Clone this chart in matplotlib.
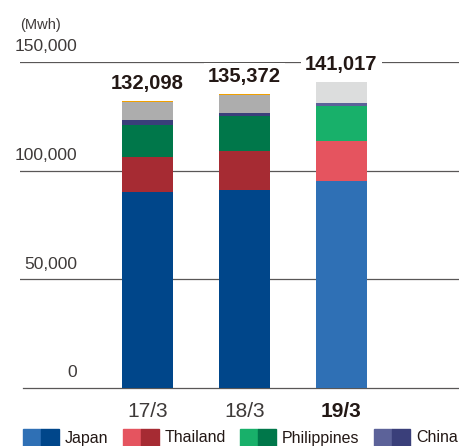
import matplotlib.pyplot as plt
from matplotlib.patches import Rectangle
import matplotlib.transforms as mtransforms

# energy use per fiscal year, Mwh
years = ["17/3", "18/3", "19/3"]
totals = [132098, 135372, 141017]
japan = [90200, 91300, 95240]
thailand = [15950, 17650, 18230]
philippines = [15050, 16260, 16450]
china = [2280, 1490, 1390]
other = [8220, 8220, 9707]
other2 = [398, 452, 0]

regions = ["Japan", "Thailand", "Philippines", "China"]
light = ["#2f70b5", "#e5545f", "#18b06a", "#5c6299"]
dark = ["#00468a", "#a62b33", "#00774a", "#3a3f7a"]
grey_dark, grey_light, orange = "#adadad", "#dcdddd", "#f0a000"
line_c = "#595757"
txt_c = "#231815"

font = ["Liberation Sans", "DejaVu Sans"]

W, H = 459, 446
fig = plt.figure(figsize=(W / 100, H / 100), dpi=100)
ax = fig.add_axes([20 / W, (H - 388) / H, (W - 20) / W, 326 / H])
ax.set_ylim(0, 150000)
ax.set_xlim(-127.5 / 97, (W - 147.5) / 97)
for s in ax.spines.values():
    s.set_visible(False)
ax.set_yticks([])

# gridlines with labels sitting above them
for v in [50000, 100000, 150000]:
    ax.axhline(v, color=line_c, lw=0.9, zorder=1)
ax.plot([3 / 439, 1], [0, 0],
        transform=mtransforms.blended_transform_factory(ax.transAxes, ax.transData),
        color=line_c, lw=0.9, zorder=1, clip_on=False)
for v in [0, 50000, 100000, 150000]:
    ax.annotate(f"{v:,}", (57 / 439, v), xycoords=("axes fraction", "data"),
                xytext=(0, 5.5), textcoords="offset points", ha="right", va="bottom",
                fontsize=12.5, family=font, color="#3e3a39", annotation_clip=False)
fig.text(20 / W, 1 - 25 / H, "(Mwh)", fontsize=10.5, family=font,
         color="#3e3a39", va="center", ha="left")

x = range(len(years))
w = 51 / 97
stacks = [japan, thailand, philippines, china]
for i in x:
    cols = light if i == 2 else dark
    bottom = 0
    for vals, c in zip(stacks, cols):
        ax.bar(i, vals[i], w, bottom=bottom, color=c, zorder=2)
        bottom += vals[i]
    ax.bar(i, other[i], w, bottom=bottom, color=grey_light if i == 2 else grey_dark, zorder=2)
    bottom += other[i]
    if other2[i]:
        ax.bar(i, other2[i], w, bottom=bottom, color=orange, zorder=2)
    ax.annotate(f"{totals[i]:,}", (i, totals[i]), xytext=(0, 5.5),
                textcoords="offset points", ha="center", va="bottom",
                fontsize=14.5, fontweight="bold", family=font, color=txt_c,
                annotation_clip=False,
                bbox=dict(boxstyle="square,pad=0.2", fc="white", ec="none"),
                zorder=3)

ax.set_xticks(list(x))
ax.set_xticklabels(years, fontsize=15, family=font, color="#3e3a39")
ax.get_xticklabels()[2].set_fontweight("bold")
ax.get_xticklabels()[2].set_color(txt_c)
ax.tick_params(axis="x", length=0, pad=10)

# two-tone legend keys
keys_x = [23, 123, 240, 374]
for kx, name, lc, dc in zip(keys_x, regions, light, dark):
    fig.patches.append(Rectangle((kx / W, 0), 18 / W, 17 / H, color=lc,
                                 transform=fig.transFigure))
    fig.patches.append(Rectangle(((kx + 18) / W, 0), 18 / W, 17 / H, color=dc,
                                 transform=fig.transFigure))
    fig.text((kx + 42) / W, 1 - 438 / H, name, fontsize=11.5, family=font,
             color=txt_c, va="center", ha="left")

fig.savefig("out.png", dpi=100)
